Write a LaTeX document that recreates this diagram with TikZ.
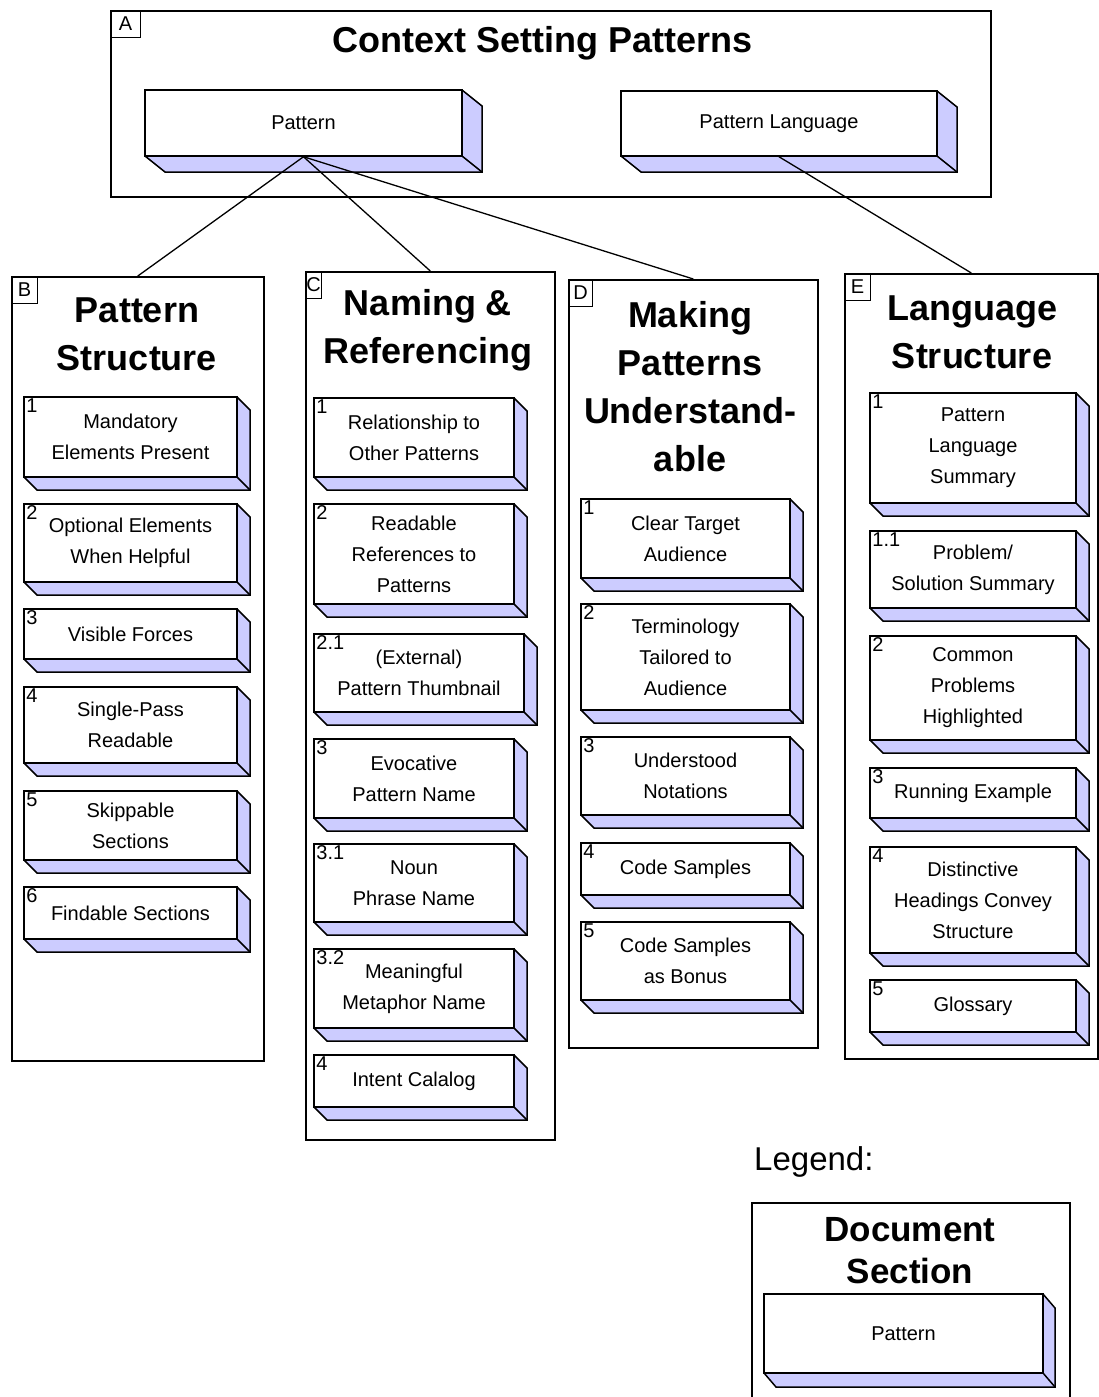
\documentclass[tikz,border=0pt]{standalone}
\usepackage{fontspec}
\setmainfont{Liberation Sans}
\definecolor{lav}{RGB}{204,204,255}
\tikzset{
  edge/.style={draw=black, line width=1.5pt, line join=miter},
  side/.style={fill=lav},
  front/.style={draw=black, fill=white, line width=1.5pt, inner sep=0pt, align=center,
    font=\fontsize{20}{31}\selectfont},
  num/.style={anchor=north west, inner xsep=3pt, inner ysep=2pt, font=\fontsize{20}{20}\selectfont},
  cbox/.style={draw=black, line width=1.6pt, inner sep=0pt},
  lbl/.style={draw=black, line width=1.2pt, inner sep=0pt, anchor=north west,
    font=\fontsize{20}{20}\selectfont},
  ttl/.style={align=center, inner sep=0pt, font=\bfseries\fontsize{36}{48}\selectfont},
  conn/.style={draw=black, line width=1.3pt}
}
\def\dx{13}\def\dy{13}
% name, x1, y1, x2, y2, number, text
\newcommand\pbox[7]{%
  \fill[side] (#4,#3) -- ({#4+\dx},{#3+\dy}) -- ({#4+\dx},{#5+\dy}) -- ({#2+\dx},{#5+\dy}) -- (#2,#5) -- cycle;
  \draw[edge] (#4,#3) -- ({#4+\dx},{#3+\dy}) -- ({#4+\dx},{#5+\dy}) -- ({#2+\dx},{#5+\dy}) -- (#2,#5);
  \draw[edge] (#4,#5) -- ({#4+\dx},{#5+\dy});
  \node[front, minimum width={#4-#2}, minimum height={#5-#3}] (#1) at ({(#2+#4)/2},{(#3+#5)/2}) {#7};
  \node[num] (#1n) at (#1.north west) {#6};
}
% name, x1, y1, x2, y2, label width, label
\newcommand\cont[7]{%
  \node[cbox, anchor=north west, minimum width={#4-#2}, minimum height={#5-#3}] (#1) at (#2,#3) {};
  \node[lbl, minimum width=#6, minimum height=27] (#1lab) at (#1.north west) {#7};
}
\begin{document}
\begin{tikzpicture}[x=1pt, y=-1pt]
\useasboundingbox (0,0) rectangle (1099,1397);
\clip (0,0) rectangle (1099,1397);
\fill[white] (0,0) rectangle (1099,1397);

% ---- containers
\cont{A}{110}{10}{990}{196}{30}{A}
\cont{B}{11}{276}{263}{1060}{26}{B}
\cont{C}{305}{271}{554}{1139}{16}{C}
\cont{D}{568}{279}{817}{1047}{24}{D}
\cont{E}{844}{273}{1097}{1058}{26}{E}
\node[cbox, anchor=north west, minimum width=318, minimum height=228] (L) at (751,1202) {};

% ---- titles
\node[ttl] (At) at (543,43) {Context Setting Patterns};
\node[ttl] (Bt) at (137,334) {Pattern\\Structure};
\node[ttl] (Ct) at (428,330) {Naming \&\\Referencing};
\node[ttl] (Dt) at (690,387) {Making\\Patterns\\Understand-\\able};
\node[ttl] (Et) at (972,332) {Language\\Structure};
\node[ttl, font=\bfseries\fontsize{35}{42}\selectfont] (Lt) at (910,1251) {Document\\Section};
\node[anchor=west, inner sep=0pt, font=\fontsize{33}{33}\selectfont] (leg) at (754,1162) {Legend:};

% ---- A boxes
\def\dx{20}\def\dy{16}
\pbox{A1}{145}{90}{462}{156}{}{Pattern}
\pbox{A2}{621}{91}{937}{156}{}{Pattern Language}

% ---- B column
\def\dx{13}\def\dy{13}
\pbox{B1}{24}{397}{237}{477}{1}{Mandatory\\Elements Present}
\pbox{B2}{24}{504}{237}{582}{2}{Optional Elements\\When Helpful}
\pbox{B3}{24}{609}{237}{659}{3}{Visible Forces}
\pbox{B4}{24}{687}{237}{763}{4}{Single-Pass\\Readable}
\pbox{B5}{24}{791}{237}{860}{5}{Skippable\\Sections}
\pbox{B6}{24}{887}{237}{939}{6}{Findable Sections}

% ---- C column
\pbox{C1}{314}{398}{514}{477}{1}{Relationship to\\Other Patterns}
\pbox{C2}{314}{504}{514}{604}{2}{Readable\\References to\\Patterns}
\pbox{C21}{314}{634}{524}{712}{2.1}{(External)\\Pattern Thumbnail}
\pbox{C3}{314}{739}{514}{818}{3}{Evocative\\Pattern Name}
\pbox{C31}{314}{844}{514}{922}{3.1}{Noun\\Phrase Name}
\pbox{C32}{314}{949}{514}{1028}{3.2}{Meaningful\\Metaphor Name}
\pbox{C4}{314}{1055}{514}{1107}{4}{Intent Calalog}

% ---- D column
\pbox{D1}{581}{499}{790}{578}{1}{Clear Target\\Audience}
\pbox{D2}{581}{604}{790}{710}{2}{Terminology\\Tailored to\\Audience}
\pbox{D3}{581}{737}{790}{815}{3}{Understood\\Notations}
\pbox{D4}{581}{843}{790}{895}{4}{Code Samples}
\pbox{D5}{581}{922}{790}{1000}{5}{Code Samples\\as Bonus}

% ---- E column
\pbox{E1}{870}{393}{1076}{503}{1}{Pattern\\Language\\Summary}
\pbox{E11}{870}{531}{1076}{608}{1.1}{Problem/\\Solution Summary}
\pbox{E2}{870}{636}{1076}{740}{2}{Common\\Problems\\Highlighted}
\pbox{E3}{870}{768}{1076}{818}{3}{Running Example}
\pbox{E4}{870}{847}{1076}{953}{4}{Distinctive\\Headings Convey\\Structure}
\pbox{E5}{870}{980}{1076}{1032}{5}{Glossary}

% ---- legend box
\def\dx{12}\def\dy{14}
\pbox{L1}{764}{1294}{1043}{1373}{}{Pattern}

% ---- connectors
\draw[conn] (A1.south) -- (B.north);
\draw[conn] (A1.south) -- (C.north);
\draw[conn] (A1.south) -- (D.north);
\draw[conn] (A2.south) -- (E.north);
\end{tikzpicture}
\end{document}
